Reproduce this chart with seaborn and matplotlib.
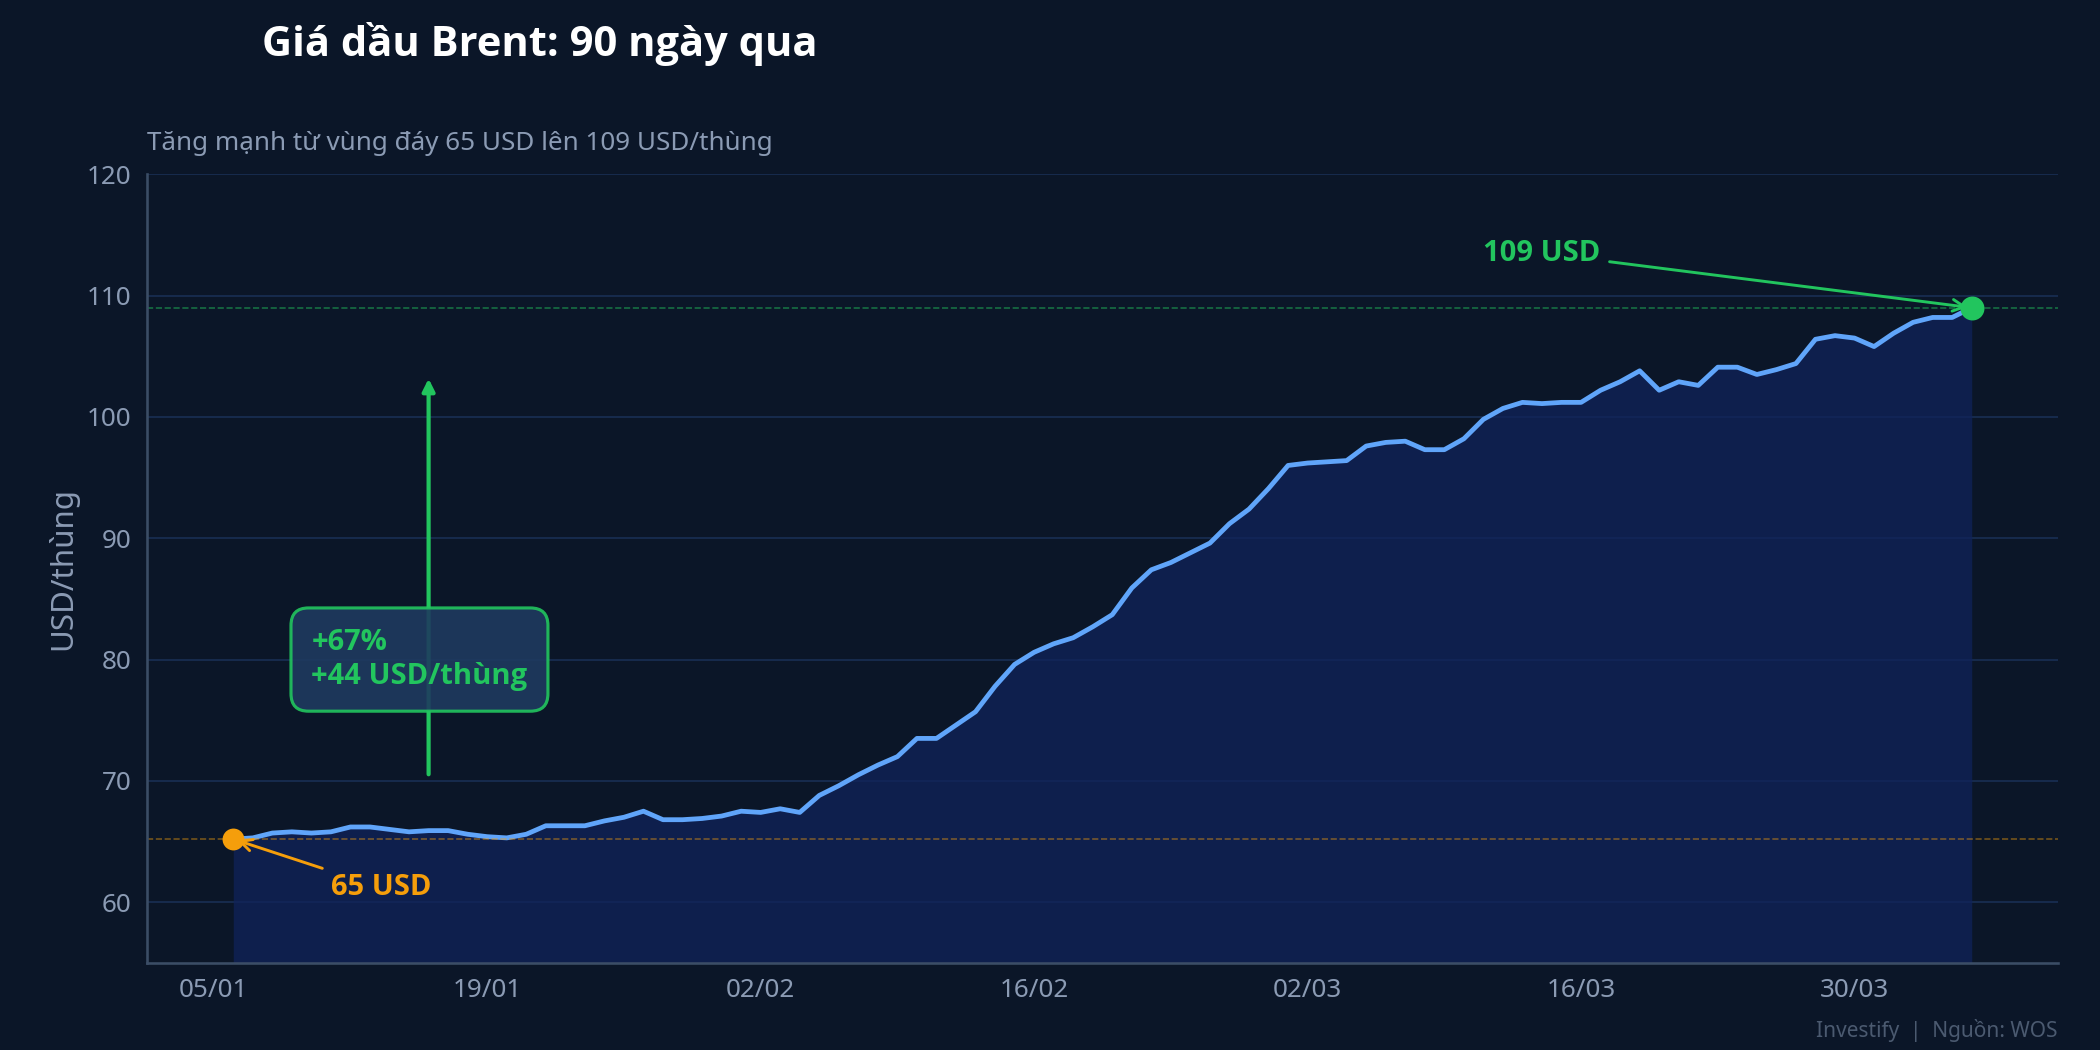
import pandas as pd
import numpy as np
import matplotlib
matplotlib.use('Agg')
import matplotlib.pyplot as plt
import matplotlib.dates as mdates
import seaborn as sns

# Giá dầu Brent theo ngày, 06/01 -> 05/04
prices = [65.2, 65.3, 65.7, 65.8, 65.7, 65.8, 66.2, 66.2, 66.0, 65.8,
          65.9, 65.9, 65.6, 65.4, 65.3, 65.6, 66.3, 66.3, 66.3, 66.7,
          67.0, 67.5, 66.8, 66.8, 66.9, 67.1, 67.5, 67.4, 67.7, 67.4,
          68.8, 69.6, 70.5, 71.3, 72.0, 73.5, 73.5, 74.6, 75.7, 77.8,
          79.6, 80.6, 81.3, 81.8, 82.7, 83.7, 85.9, 87.4, 88.0, 88.8,
          89.6, 91.2, 92.4, 94.1, 96.0, 96.2, 96.3, 96.4, 97.6, 97.9,
          98.0, 97.3, 97.3, 98.2, 99.8, 100.7, 101.2, 101.1, 101.2, 101.2,
          102.2, 102.9, 103.8, 102.2, 102.9, 102.6, 104.1, 104.1, 103.5, 103.9,
          104.4, 106.4, 106.7, 106.5, 105.8, 106.9, 107.8, 108.2, 108.2, 109.0]
dates = pd.date_range('2026-01-06', periods=len(prices), freq='D')
tick_dates = pd.to_datetime(['2026-01-05', '2026-01-19', '2026-02-02', '2026-02-16',
                             '2026-03-02', '2026-03-16', '2026-03-30'])
df = pd.DataFrame({'date': dates, 'price': prices})

BG = '#0b1628'
LINE = '#60a5fa'
GREEN = '#22c55e'
ORANGE = '#f59e0b'
MUTED = '#8b9bb4'
BOLD = ['Open Sans', 'DejaVu Sans']

sns.set_theme(style='dark')
plt.rcParams['font.family'] = ['Noto Sans', 'DejaVu Sans']

fig = plt.figure(figsize=(14, 7), dpi=150, facecolor=BG)
ax = fig.add_axes([0.070, 0.083, 0.910, 0.751])
ax.set_facecolor(BG)

ax.fill_between(df['date'], 55, df['price'], color='#10235a', alpha=0.75, lw=0)
sns.lineplot(data=df, x='date', y='price', ax=ax, color=LINE, lw=2.3)

start, end = df.iloc[0], df.iloc[-1]
ax.axhline(end['price'], color=GREEN, ls='--', lw=0.8, alpha=0.5)
ax.axhline(start['price'], color=ORANGE, ls='--', lw=0.8, alpha=0.45)
ax.scatter([start['date']], [start['price']], s=90, color=ORANGE, zorder=5)
ax.scatter([end['date']], [end['price']], s=110, color=GREEN, zorder=5)

ax.annotate('65 USD', xy=(start['date'], start['price']),
            xytext=(pd.Timestamp('2026-01-11 00:00'), 61.2), color=ORANGE,
            fontsize=14, fontweight='bold', family=BOLD, va='center',
            arrowprops=dict(arrowstyle='->', color=ORANGE, lw=1.4))
ax.annotate('109 USD', xy=(end['date'], end['price']),
            xytext=(pd.Timestamp('2026-03-11'), 113.5),
            color=GREEN, fontsize=14, fontweight='bold', family=BOLD, va='center',
            arrowprops=dict(arrowstyle='->', color=GREEN, lw=1.4))

arrow_x = pd.Timestamp('2026-01-16')
ax.annotate('', xy=(arrow_x, 103.5), xytext=(arrow_x, 70.2),
            arrowprops=dict(arrowstyle='-|>', color=GREEN, lw=2, mutation_scale=12))
ax.text(pd.Timestamp('2026-01-10'), 80, '+67%\n+44 USD/thùng',
        color=GREEN, fontsize=14, fontweight='bold', family=BOLD,
        va='center', ha='left', linespacing=1.2,
        bbox=dict(boxstyle='round,pad=0.7,rounding_size=0.6', fc='#1e3a5f',
                  ec=GREEN, lw=1.5, alpha=0.9))

ax.set_ylim(55, 120)
ax.set_xlim(pd.Timestamp('2026-01-01 14:00'), pd.Timestamp('2026-04-09 10:00'))
ax.set_yticks(range(60, 121, 10))
ax.set_xticks(tick_dates)
ax.xaxis.set_major_formatter(mdates.DateFormatter('%d/%m'))
ax.grid(axis='y', color='#172c4f', lw=0.9)
ax.grid(axis='x', visible=False)
ax.tick_params(colors=MUTED, labelsize=12.5, length=4, color='#3b4d66')
ax.set_xlabel('')
ax.set_ylabel('USD/thùng', color=MUTED, fontsize=15)
for side in ['top', 'right']:
    ax.spines[side].set_visible(False)
for side in ['left', 'bottom']:
    ax.spines[side].set_color('#3b4d66')

fig.text(0.125, 0.958, 'Giá dầu Brent: 90 ngày qua', color='white',
         fontsize=20, fontweight='bold', family=BOLD, va='center')
fig.text(0.070, 0.863, 'Tăng mạnh từ vùng đáy 65 USD lên 109 USD/thùng',
         color=MUTED, fontsize=12.5, va='center')
fig.text(0.98, 0.019, 'Investify  |  Nguồn: WOS', color='#4b5a70',
         fontsize=10, ha='right', va='center')

fig.savefig('out.png', dpi=150, facecolor=BG)
